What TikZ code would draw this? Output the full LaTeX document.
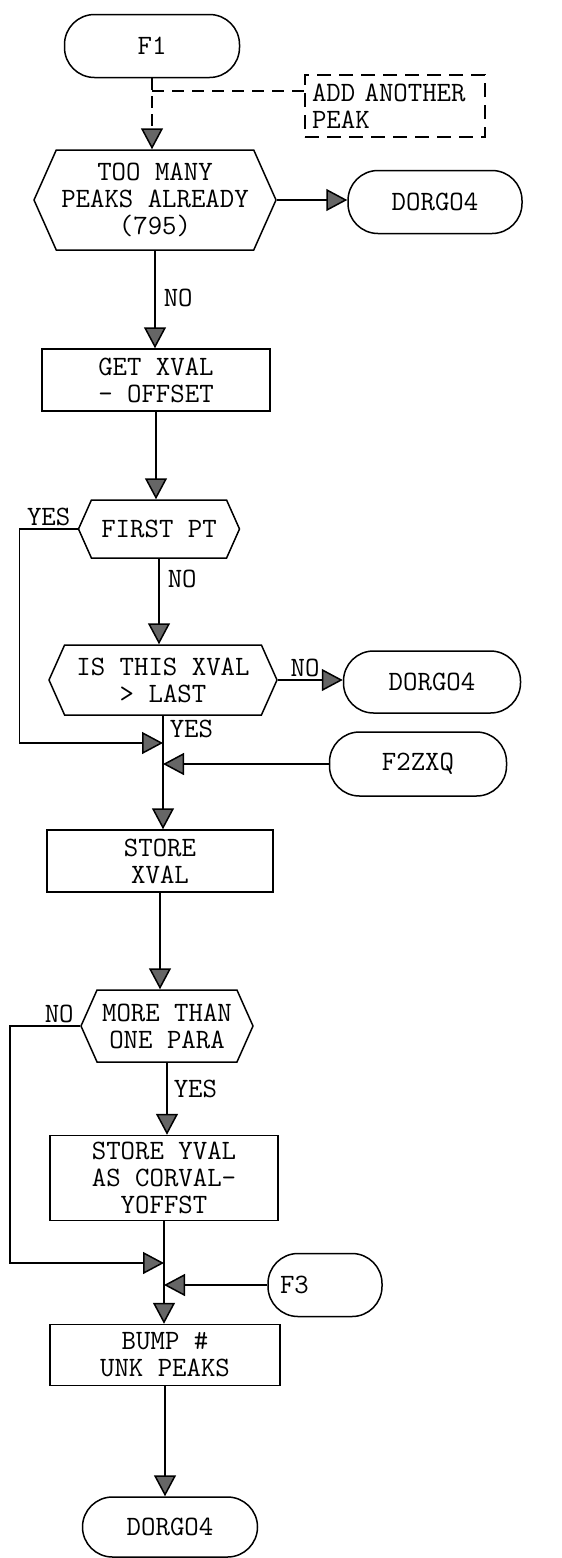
\documentclass[tikz,border=0pt]{standalone}
\usepackage{fontspec}
\usetikzlibrary{arrows.meta,shapes.symbols}

\tikzset{
  term/.style={draw, rectangle, rounded corners=30pt, line width=1.5pt,
    minimum width=175pt, minimum height=63pt},
  proc/.style={draw, rectangle, line width=1.5pt, align=center,
    minimum width=228pt, minimum height=62pt},
  dec/.style={draw, shape=signal, signal to=west and east,
    signal pointer angle=132, line width=1.5pt, align=center, inner sep=2pt},
  remark/.style={draw, dash pattern=on 14pt off 8pt, line width=1.2pt,
    align=left, text width=166pt, inner xsep=7pt, minimum height=62pt},
  flow/.style={-{Triangle[length=21pt,width=22pt,fill=black!60]}, line width=1.5pt},
  lab/.style={inner sep=2pt}
}

\begin{document}
\begin{tikzpicture}[x=1pt, y=-1pt,
  every node/.style={font=\ttfamily\fontsize{28}{27}\selectfont}]
  \useasboundingbox (0,0) rectangle (562,1558);

  % main column
  \node[term] (f1) at (152,46) {F1};
  \node[dec, minimum width=242pt, minimum height=100pt] (q1) at (155,200)
    {TOO MANY\\PEAKS ALREADY\\(795)};
  \node[proc] (p1) at (156,380) {GET XVAL\\- OFFSET};
  \node[dec, minimum width=161pt, minimum height=58pt] (q2) at (159,529) {FIRST PT};
  \node[dec, minimum width=228pt, minimum height=70pt] (q3) at (163,680)
    {IS THIS XVAL\\> LAST};
  \node[proc, minimum width=226pt] (p2) at (160,861) {STORE\\XVAL};
  \node[dec, minimum width=172pt, minimum height=72pt] (q4) at (167,1026)
    {MORE THAN\\ONE PARA};
  \node[proc, minimum height=85pt] (p3) at (164,1178) {STORE YVAL\\AS CORVAL-\\YOFFST};
  \node[proc, minimum width=230pt, minimum height=61pt] (p4) at (165,1355)
    {BUMP \#\\UNK PEAKS};
  \node[term, minimum height=60pt] (d3) at (170,1527) {DORGO4};

  % side nodes
  \node[remark] (rem) at (395,106) {ADD ANOTHER\\PEAK};
  \node[term, minimum width=174pt] (d1) at (435,202) {DORGO4};
  \node[term, minimum width=177pt, minimum height=62pt] (d2) at (432,682) {DORGO4};
  \node[term, minimum width=177pt, minimum height=64pt] (f2) at (418,764) {F2ZXQ};
  \node[term, minimum width=114pt, align=left, text width=90pt, inner xsep=12pt]
    (f3) at (325,1285) {F3};

  % joins
  \coordinate (j0) at (152,91);
  \coordinate (j1) at (163,743);
  \coordinate (j2) at (163,764);
  \coordinate (j3) at (164,1263);
  \coordinate (j4) at (164,1285);

  \draw[flow, dash pattern=on 12pt off 6pt] (f1.south) -- (f1.south |- q1.north);
  \draw[dash pattern=on 12pt off 8pt, line width=1.2pt] (j0) -- (j0 -| rem.west);

  \path[flow]
  (q1.east) edge (q1.east -| d1.west)
  (q1.south) edge node[lab, right, pos=0.48, xshift=6pt] {NO} (q1.south |- p1.north)
  (p1.south) edge (p1.south |- q2.north)
  (q2.south) edge node[lab, right, pos=0.24, xshift=6pt] {NO} (q2.south |- q3.north)
  (q3.east) edge node[lab, above, pos=0.42] {NO} (q3.east -| d2.west)
  (q3.south) edge node[lab, right, pos=0.12, xshift=4pt] {YES} (q3.south |- p2.north)
  (f2) edge (j2)
  (p2.south) edge (p2.south |- q4.north)
  (q4.south) edge node[lab, right, pos=0.36, xshift=4pt] {YES} (q4.south |- p3.north)
  (p3.south) edge (p3.south |- p4.north)
  (f3) edge (j4)
  (p4.south) edge (p4.south |- d3.north);

  \draw[flow] (q2.west) -- node[lab, above] {YES} ++(-58,0) |- (j1);
  \draw[flow] (q4.west) -- node[lab, above, pos=0.3] {NO} ++(-70,0) |- (j3);
\end{tikzpicture}
\end{document}
